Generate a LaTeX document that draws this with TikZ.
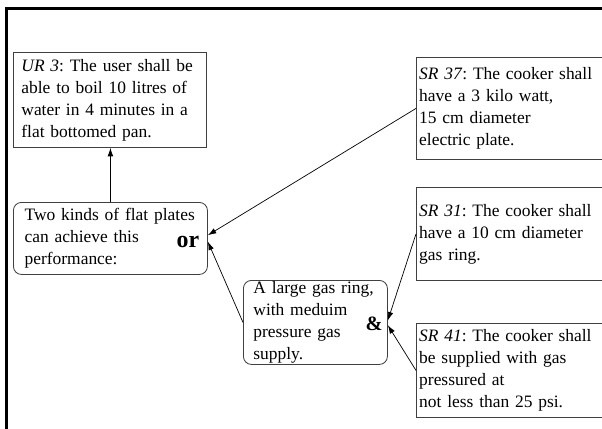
\documentclass[tikz,border=0pt]{standalone}
\usepackage{fontspec}
\setmainfont{Liberation Serif}
\usetikzlibrary{arrows.meta}
\frenchspacing
\begin{document}
\begin{tikzpicture}[
        reqbox/.style={draw=black!75, line width=0.6pt, align=left, anchor=north west,
            inner ysep=0.05cm, font=\fontsize{12.4}{15.7}\selectfont},
        choicebox/.style={reqbox, rounded corners=0.2cm},
        conn/.style={-{Latex[length=6pt,width=4pt]}, line width=0.5pt}
    ]
        % Fix the page size
        \clip (0,0) rectangle (15.05,-10.7);
        
        % Frame on the top and left
        \draw[line width=2.2pt] (0.17,-10.9) -- (0.17,-0.22) -- (15.3,-0.22);
        
        % User requirement
        \node[reqbox, inner xsep=0.2cm, text width=4.425cm, minimum height=2.375cm] (ur3) at (0.325,-1.3)
            {\textit{UR 3}: The user shall be\\ able to boil 10 litres of\\ water in 4 minutes in a\\ flat bottomed pan.};
        
        % Choice between the two plates
        \node[choicebox, inner xsep=0.28cm, text width=4.29cm, minimum height=1.8cm] (plates) at (0.325,-5.05)
            {Two kinds of flat plates\\ can achieve this\\ performance:};
        \node[font=\fontsize{17}{20}\selectfont\bfseries] (orlabel) at (4.7,-6.04) {or};
        
        % Gas ring option
        \node[choicebox, inner xsep=0.25cm, inner ysep=0pt, text width=3.1cm, minimum height=2.1cm] (gasring) at (6.075,-7.0)
            {A large gas ring,\\ with meduim\\ pressure gas\\ supply.};
        \node[font=\fontsize{14.5}{17}\selectfont\bfseries] (andlabel) at (9.35,-8.1) {\&};
        
        % System requirements (cut at the right edge)
        \node[reqbox, inner xsep=0.07cm, text width=6cm, minimum height=2.55cm] (sr37) at (10.4,-1.425)
            {\textit{SR 37}: The cooker shall\\ have a 3 kilo watt,\\ 15 cm diameter\\ electric plate.};
        \node[reqbox, inner xsep=0.07cm, text width=6cm, minimum height=2.325cm] (sr31) at (10.4,-4.675)
            {\textit{SR 31}: The cooker shall\\ have a 10 cm diameter\\ gas ring.};
        \node[reqbox, inner xsep=0.07cm, text width=6cm, minimum height=2.35cm] (sr41) at (10.4,-8.075)
            {\textit{SR 41}: The cooker shall\\ be supplied with gas\\ pressured at\\ not less than 25 psi.};
        
        % Connectors
        \draw[conn] (plates.north) -- (plates.north |- ur3.south);
        \draw[conn] (sr37.west) -- ([yshift=0.08cm]plates.east);
        \draw[conn] (gasring.west) -- ([yshift=-0.08cm]plates.east);
        \draw[conn] (sr31.west) -- ([yshift=0.05cm]gasring.east);
        \draw[conn] (sr41.west) -- ([yshift=-0.07cm]gasring.east);
        
    \end{tikzpicture}
\end{document}
